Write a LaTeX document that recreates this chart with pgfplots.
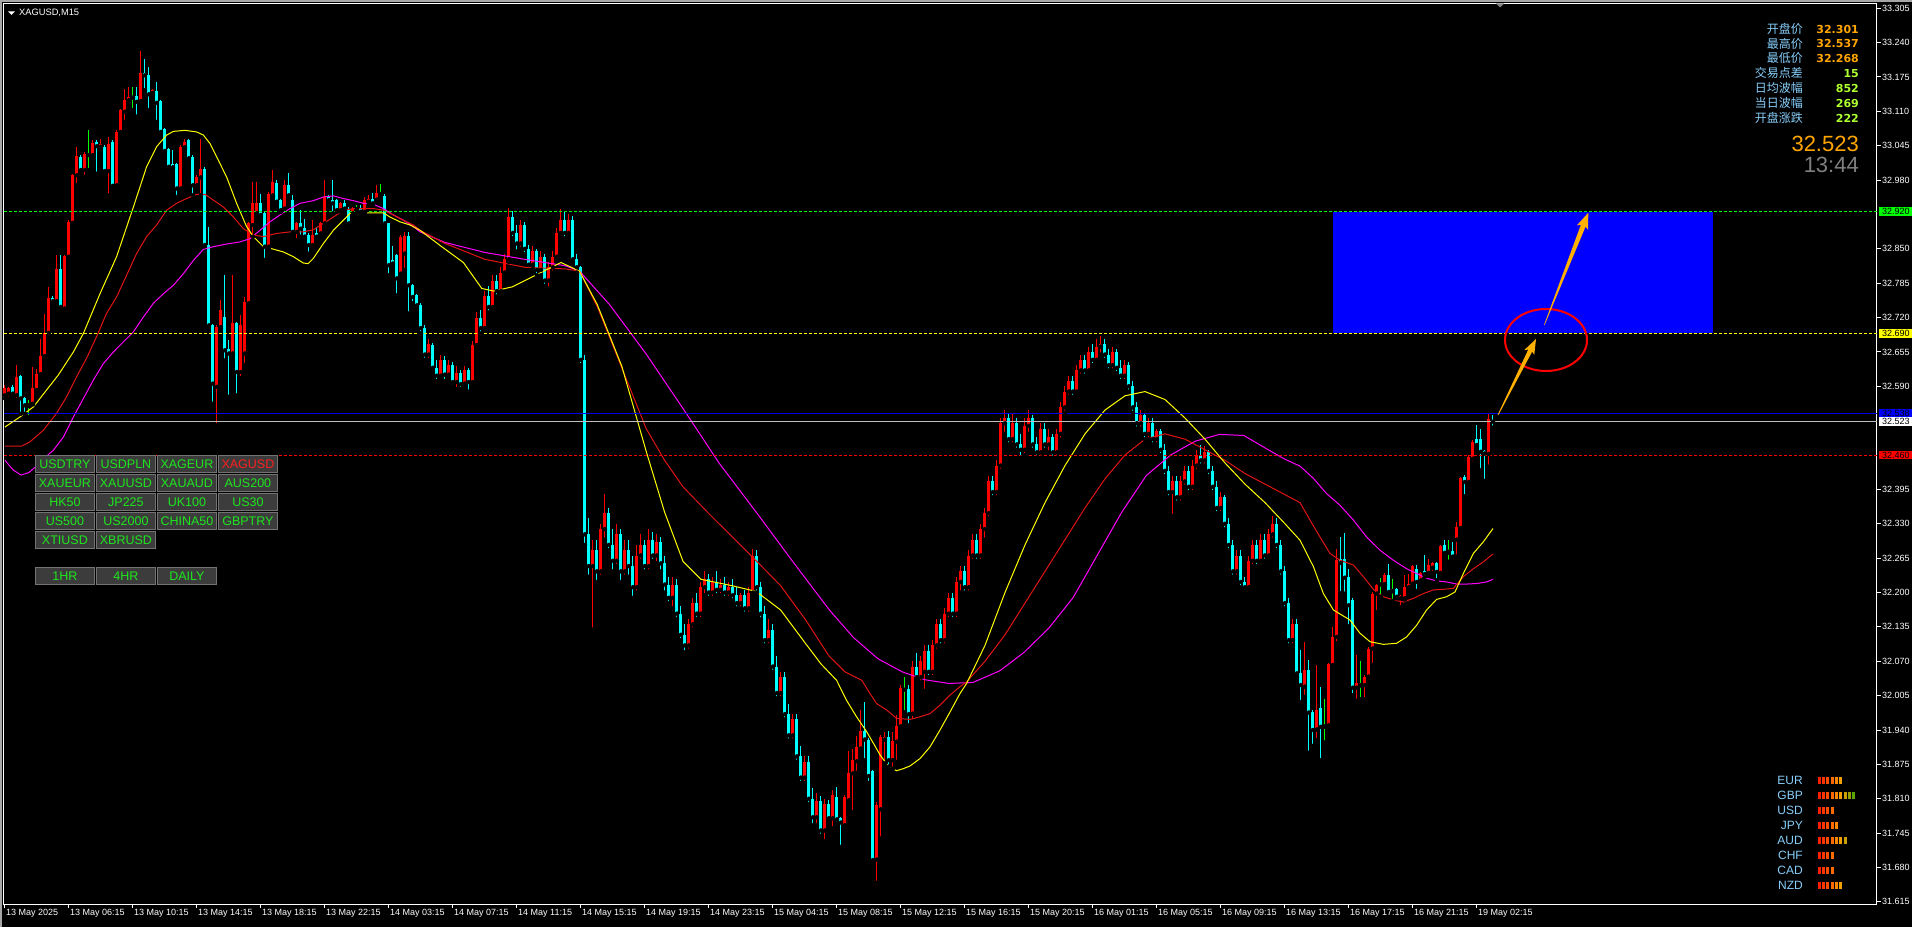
\documentclass[border=0pt]{standalone}
\usepackage{pgfplots}
\pgfplotsset{compat=1.18}
\usepackage{pgfplotstable}
\usepackage{fontspec}
\setmainfont{Liberation Sans}
\newfontfamily\cjk{Noto Sans CJK SC}
\newfontfamily\dvs{DejaVu Sans}
\definecolor{cup}{RGB}{255,0,0}
\definecolor{cdn}{RGB}{0,255,255}
\definecolor{cdoji}{RGB}{0,255,0}
\definecolor{maY}{RGB}{255,255,0}
\definecolor{maR}{RGB}{225,20,20}
\definecolor{maM}{RGB}{255,0,255}
\definecolor{lvlG}{RGB}{0,255,0}
\definecolor{lvlY}{RGB}{255,255,0}
\definecolor{lvlB}{RGB}{0,0,255}
\definecolor{lvlL}{RGB}{0,0,230}
\definecolor{lvlW}{RGB}{190,190,190}
\definecolor{lvlR}{RGB}{255,0,0}
\definecolor{lblue}{RGB}{135,206,250}
\definecolor{vorange}{RGB}{255,165,0}
\definecolor{vgreen}{RGB}{173,255,47}
\definecolor{arrowc}{RGB}{255,176,0}
\definecolor{btnfill}{RGB}{60,60,60}
\definecolor{btnedge}{RGB}{115,115,115}
\definecolor{btng}{RGB}{30,230,30}
\definecolor{btnr}{RGB}{255,30,30}
\definecolor{s1}{RGB}{255,30,0}
\definecolor{s2}{RGB}{255,50,0}
\definecolor{s3}{RGB}{255,75,0}
\definecolor{s4}{RGB}{255,105,0}
\definecolor{s5}{RGB}{255,135,0}
\definecolor{s6}{RGB}{240,160,0}
\definecolor{s7}{RGB}{200,160,0}
\definecolor{s8}{RGB}{150,160,0}
\definecolor{s9}{RGB}{90,165,0}
\newcommand\tf{\fontsize{9}{10}\selectfont}

\pgfplotstableread{
i o h l c
0 32.573 32.592 32.567 32.586
1 32.576 32.589 32.567 32.586
2 32.589 32.592 32.573 32.576
3 32.573 32.630 32.564 32.608
4 32.609 32.611 32.538 32.567
5 32.567 32.570 32.538 32.554
6 32.554 32.564 32.531 32.557
7 32.557 32.627 32.556 32.586
8 32.583 32.623 32.579 32.614
9 32.613 32.680 32.611 32.647
10 32.647 32.727 32.646 32.691
11 32.691 32.778 32.686 32.757
12 32.757 32.760 32.746 32.751
13 32.751 32.838 32.750 32.812
14 32.812 32.838 32.737 32.740
15 32.737 32.838 32.734 32.836
16 32.835 32.904 32.831 32.901
17 32.899 32.992 32.898 32.989
18 32.989 33.043 32.970 33.025
19 33.024 33.027 32.995 32.999
20 32.999 33.033 32.986 33.030
21 33.028 33.074 32.999 33.028
22 33.027 33.055 33.024 33.050
23 33.052 33.055 32.992 33.044
24 33.043 33.058 33.040 33.048
25 33.043 33.046 32.995 32.997
26 32.997 33.062 32.951 33.049
27 33.052 33.055 32.967 32.969
28 32.970 33.074 32.967 33.071
29 33.071 33.115 33.068 33.112
30 33.109 33.153 33.090 33.131
31 33.131 33.156 33.128 33.137
32 33.136 33.156 33.112 33.139
33 33.139 33.156 33.100 33.128
34 33.129 33.224 33.128 33.183
35 33.183 33.208 33.150 33.178
36 33.178 33.194 33.112 33.142
37 33.145 33.153 33.141 33.150
38 33.148 33.166 33.090 33.126
39 33.129 33.131 33.069 33.071
40 33.076 33.078 33.033 33.035
41 33.038 33.040 33.002 33.005
42 33.010 33.036 33.002 33.004
43 33.010 33.013 32.948 32.964
44 32.964 33.046 32.962 33.043
45 33.042 33.058 33.040 33.052
46 33.055 33.057 33.019 33.021
47 33.024 33.027 32.951 32.970
48 32.970 32.989 32.967 32.986
49 32.985 33.057 32.951 33.000
50 33.000 33.005 32.855 32.857
51 32.857 32.891 32.702 32.705
52 32.705 32.708 32.557 32.595
53 32.589 32.705 32.516 32.702
54 32.702 32.753 32.699 32.734
55 32.721 32.800 32.639 32.658
56 32.661 32.677 32.570 32.652
57 32.652 32.800 32.649 32.709
58 32.709 32.712 32.573 32.617
59 32.617 32.724 32.605 32.705
60 32.652 32.759 32.630 32.750
61 32.747 32.901 32.744 32.898
62 32.895 32.977 32.873 32.936
63 32.917 32.977 32.914 32.936
64 32.936 32.953 32.911 32.914
65 32.917 32.920 32.829 32.854
66 32.854 32.958 32.851 32.953
67 32.951 32.999 32.948 32.977
68 32.975 32.980 32.936 32.939
69 32.942 32.945 32.920 32.923
70 32.926 32.980 32.914 32.970
71 32.970 32.994 32.948 32.951
72 32.943 32.951 32.880 32.882
73 32.882 32.901 32.866 32.899
74 32.899 32.923 32.873 32.888
75 32.890 32.907 32.869 32.873
76 32.876 32.879 32.841 32.857
77 32.857 32.904 32.854 32.876
78 32.879 32.891 32.869 32.873
79 32.879 32.901 32.873 32.898
80 32.898 32.980 32.895 32.947
81 32.948 32.951 32.939 32.942
82 32.943 32.980 32.917 32.936
83 32.942 32.945 32.920 32.923
84 32.923 32.939 32.920 32.936
85 32.937 32.942 32.923 32.926
86 32.926 32.929 32.895 32.898
87 32.917 32.929 32.914 32.926
88 32.926 32.932 32.917 32.923
89 32.926 32.932 32.917 32.920
90 32.920 32.948 32.918 32.942
91 32.939 32.951 32.936 32.945
92 32.945 32.955 32.932 32.936
93 32.943 32.970 32.941 32.956
94 32.953 32.973 32.951 32.956
95 32.950 32.953 32.895 32.898
96 32.898 32.899 32.800 32.819
97 32.829 32.855 32.819 32.822
98 32.838 32.841 32.762 32.794
99 32.803 32.876 32.800 32.873
100 32.841 32.882 32.810 32.874
101 32.874 32.882 32.728 32.781
102 32.781 32.784 32.747 32.759
103 32.762 32.765 32.740 32.743
104 32.743 32.748 32.690 32.700
105 32.700 32.705 32.640 32.650
106 32.650 32.680 32.640 32.670
107 32.668 32.672 32.618 32.625
108 32.625 32.640 32.600 32.610
109 32.610 32.650 32.605 32.640
110 32.640 32.648 32.600 32.612
111 32.612 32.640 32.605 32.630
112 32.630 32.635 32.590 32.598
113 32.598 32.628 32.585 32.615
114 32.615 32.620 32.585 32.594
115 32.595 32.628 32.590 32.620
116 32.620 32.625 32.580 32.598
117 32.598 32.675 32.592 32.668
118 32.668 32.730 32.660 32.720
119 32.720 32.735 32.690 32.700
120 32.700 32.770 32.695 32.760
121 32.760 32.780 32.730 32.740
122 32.740 32.800 32.735 32.790
123 32.790 32.800 32.760 32.770
124 32.770 32.815 32.765 32.805
125 32.805 32.840 32.800 32.830
126 32.830 32.928 32.825 32.910
127 32.910 32.922 32.870 32.880
128 32.880 32.895 32.845 32.860
129 32.860 32.905 32.850 32.895
130 32.895 32.900 32.840 32.850
131 32.850 32.858 32.810 32.820
132 32.820 32.855 32.812 32.845
133 32.845 32.850 32.800 32.810
134 32.810 32.845 32.800 32.835
135 32.835 32.840 32.780 32.790
136 32.790 32.825 32.775 32.815
137 32.815 32.845 32.805 32.835
138 32.835 32.890 32.830 32.880
139 32.880 32.925 32.875 32.905
140 32.905 32.922 32.870 32.880
141 32.880 32.915 32.875 32.905
142 32.905 32.912 32.825 32.830
143 32.830 32.840 32.805 32.815
144 32.815 32.818 32.630 32.640
145 32.640 32.650 32.290 32.310
146 32.310 32.340 32.230 32.250
147 32.250 32.300 32.130 32.280
148 32.280 32.300 32.220 32.240
149 32.240 32.330 32.230 32.320
150 32.320 32.386 32.300 32.350
151 32.350 32.360 32.280 32.290
152 32.290 32.320 32.240 32.260
153 32.260 32.330 32.250 32.310
154 32.310 32.320 32.220 32.240
155 32.240 32.300 32.230 32.280
156 32.280 32.300 32.230 32.250
157 32.250 32.270 32.190 32.210
158 32.210 32.290 32.200 32.270
159 32.270 32.310 32.260 32.290
160 32.290 32.300 32.240 32.250
161 32.250 32.320 32.240 32.300
162 32.300 32.315 32.260 32.270
163 32.270 32.310 32.255 32.295
164 32.295 32.305 32.240 32.255
165 32.255 32.270 32.200 32.215
166 32.215 32.230 32.180 32.190
167 32.190 32.230 32.170 32.215
168 32.215 32.225 32.150 32.160
169 32.160 32.175 32.110 32.120
170 32.120 32.140 32.087 32.100
171 32.100 32.150 32.090 32.140
172 32.140 32.190 32.130 32.180
173 32.180 32.200 32.150 32.160
174 32.160 32.220 32.150 32.210
175 32.210 32.240 32.195 32.225
176 32.225 32.235 32.190 32.200
177 32.200 32.230 32.190 32.220
178 32.220 32.240 32.195 32.205
179 32.205 32.225 32.195 32.215
180 32.215 32.230 32.190 32.200
181 32.200 32.220 32.190 32.210
182 32.210 32.225 32.185 32.195
183 32.195 32.210 32.170 32.180
184 32.180 32.200 32.170 32.195
185 32.195 32.205 32.160 32.170
186 32.170 32.210 32.160 32.200
187 32.200 32.283 32.195 32.270
188 32.270 32.280 32.200 32.210
189 32.210 32.220 32.150 32.160
190 32.160 32.175 32.100 32.110
191 32.110 32.150 32.100 32.130
192 32.130 32.140 32.050 32.060
193 32.060 32.080 32.000 32.010
194 32.010 32.050 32.000 32.040
195 32.040 32.050 31.960 31.970
196 31.970 31.990 31.920 31.930
197 31.930 31.970 31.920 31.960
198 31.960 31.970 31.880 31.890
199 31.890 31.910 31.840 31.850
200 31.850 31.890 31.840 31.880
201 31.880 31.890 31.800 31.810
202 31.810 31.830 31.760 31.775
203 31.775 31.820 31.760 31.805
204 31.805 31.815 31.740 31.750
205 31.750 31.810 31.730 31.801
206 31.801 31.808 31.770 31.773
207 31.773 31.826 31.754 31.817
208 31.814 31.833 31.763 31.771
209 31.774 31.776 31.719 31.765
210 31.760 31.817 31.758 31.814
211 31.807 31.901 31.804 31.858
212 31.858 31.905 31.785 31.883
213 31.881 31.928 31.859 31.908
214 31.905 31.978 31.902 31.938
215 31.938 31.993 31.883 31.922
216 31.921 31.924 31.840 31.853
217 31.863 31.865 31.689 31.694
218 31.695 31.804 31.651 31.798
219 31.790 31.930 31.735 31.927
220 31.922 31.937 31.877 31.927
221 31.927 31.938 31.871 31.883
222 31.883 31.937 31.867 31.920
223 31.918 31.968 31.880 31.947
224 31.947 32.025 31.946 32.020
225 32.017 32.041 31.974 32.017
226 32.017 32.025 31.949 31.970
227 31.971 32.070 31.956 32.060
228 32.060 32.085 32.035 32.040
229 32.040 32.080 32.030 32.070
230 32.050 32.100 32.014 32.090
231 32.090 32.100 32.040 32.050
232 32.050 32.110 32.040 32.100
233 32.100 32.150 32.090 32.140
234 32.140 32.150 32.100 32.110
235 32.110 32.170 32.100 32.160
236 32.160 32.200 32.150 32.190
237 32.190 32.200 32.150 32.160
238 32.160 32.230 32.150 32.220
239 32.220 32.250 32.200 32.240
240 32.240 32.250 32.200 32.210
241 32.210 32.280 32.200 32.270
242 32.270 32.310 32.260 32.300
243 32.300 32.310 32.260 32.270
244 32.270 32.330 32.260 32.320
245 32.320 32.360 32.300 32.350
246 32.350 32.420 32.340 32.410
247 32.410 32.420 32.380 32.390
248 32.390 32.450 32.380 32.440
249 32.440 32.530 32.430 32.520
250 32.520 32.545 32.500 32.530
251 32.530 32.540 32.480 32.490
252 32.490 32.540 32.480 32.520
253 32.520 32.530 32.470 32.480
254 32.480 32.500 32.455 32.470
255 32.470 32.530 32.460 32.515
256 32.515 32.545 32.500 32.530
257 32.530 32.535 32.470 32.480
258 32.480 32.495 32.455 32.465
259 32.465 32.520 32.455 32.510
260 32.510 32.520 32.470 32.480
261 32.480 32.510 32.465 32.495
262 32.495 32.500 32.455 32.465
263 32.465 32.510 32.455 32.500
264 32.500 32.560 32.490 32.550
265 32.550 32.590 32.540 32.580
266 32.580 32.610 32.570 32.600
267 32.600 32.610 32.570 32.580
268 32.580 32.630 32.575 32.620
269 32.620 32.650 32.610 32.640
270 32.640 32.650 32.610 32.620
271 32.620 32.665 32.615 32.655
272 32.655 32.670 32.630 32.640
273 32.640 32.680 32.635 32.665
274 32.665 32.686 32.650 32.670
275 32.670 32.680 32.640 32.650
276 32.650 32.660 32.620 32.630
277 32.630 32.665 32.620 32.655
278 32.655 32.660 32.615 32.625
279 32.625 32.640 32.600 32.610
280 32.610 32.640 32.600 32.630
281 32.630 32.635 32.580 32.590
282 32.590 32.600 32.540 32.550
283 32.550 32.560 32.510 32.520
284 32.520 32.545 32.510 32.535
285 32.535 32.540 32.490 32.500
286 32.500 32.530 32.490 32.520
287 32.520 32.530 32.480 32.490
288 32.490 32.510 32.480 32.505
289 32.505 32.510 32.460 32.470
290 32.470 32.480 32.420 32.430
291 32.430 32.440 32.380 32.390
292 32.390 32.420 32.345 32.410
293 32.410 32.420 32.370 32.380
294 32.380 32.420 32.370 32.410
295 32.410 32.440 32.400 32.430
296 32.430 32.440 32.390 32.400
297 32.400 32.450 32.390 32.440
298 32.440 32.470 32.430 32.460
299 32.460 32.479 32.440 32.450
300 32.450 32.478 32.440 32.465
301 32.465 32.470 32.420 32.430
302 32.430 32.440 32.390 32.400
303 32.400 32.410 32.350 32.360
304 32.360 32.390 32.350 32.380
305 32.380 32.385 32.320 32.330
306 32.330 32.340 32.280 32.290
307 32.290 32.300 32.230 32.240
308 32.240 32.280 32.230 32.270
309 32.270 32.280 32.210 32.220
310 32.220 32.230 32.202 32.210
311 32.210 32.270 32.205 32.260
312 32.260 32.300 32.250 32.290
313 32.290 32.300 32.250 32.260
314 32.260 32.310 32.255 32.300
315 32.300 32.310 32.260 32.270
316 32.270 32.320 32.265 32.310
317 32.310 32.345 32.300 32.330
318 32.330 32.340 32.280 32.290
319 32.290 32.300 32.230 32.240
320 32.240 32.250 32.170 32.180
321 32.180 32.190 32.100 32.110
322 32.110 32.150 32.100 32.140
323 32.140 32.150 32.040 32.047
324 32.047 32.092 31.993 32.025
325 32.022 32.107 32.003 32.053
326 32.053 32.073 31.897 31.973
327 31.974 31.978 31.910 31.940
328 31.941 32.063 31.921 31.978
329 31.981 32.022 31.883 31.946
330 31.947 31.999 31.916 31.949
331 31.949 32.067 31.947 32.065
332 32.063 32.134 32.060 32.115
333 32.116 32.283 32.104 32.262
334 32.264 32.305 32.199 32.256
335 32.264 32.312 32.198 32.228
336 32.230 32.244 32.136 32.176
337 32.186 32.189 32.006 32.020
338 32.020 32.082 31.995 32.028
339 32.025 32.071 31.998 32.028
340 32.025 32.044 31.998 32.041
341 32.041 32.097 32.037 32.094
342 32.094 32.201 32.063 32.198
343 32.198 32.217 32.163 32.214
344 32.216 32.227 32.192 32.216
345 32.216 32.236 32.214 32.233
346 32.233 32.254 32.198 32.201
347 32.203 32.225 32.184 32.206
348 32.206 32.208 32.189 32.192
349 32.189 32.195 32.172 32.193
350 32.189 32.233 32.187 32.210
351 32.210 32.235 32.208 32.217
352 32.217 32.252 32.216 32.250
353 32.245 32.252 32.203 32.220
354 32.223 32.239 32.220 32.237
355 32.241 32.271 32.230 32.235
356 32.237 32.264 32.236 32.252
357 32.247 32.258 32.237 32.256
358 32.256 32.258 32.223 32.239
359 32.237 32.290 32.236 32.288
360 32.290 32.300 32.274 32.275
361 32.278 32.299 32.258 32.275
362 32.278 32.296 32.262 32.268
363 32.300 32.334 32.268 32.324
364 32.322 32.419 32.321 32.416
365 32.419 32.422 32.382 32.409
366 32.409 32.460 32.406 32.457
367 32.453 32.488 32.444 32.485
368 32.491 32.517 32.477 32.479
369 32.491 32.510 32.431 32.466
370 32.468 32.469 32.411 32.463
371 32.462 32.539 32.438 32.529
372 32.527 32.535 32.512 32.523
}\candles

\begin{document}
\begin{tikzpicture}
\fill[black] (0pt,0pt) rectangle (1912pt,927pt);
\path[use as bounding box] (0pt,0pt) rectangle (1912pt,927pt);
\begin{axis}[
  at={(4pt,23pt)}, anchor=south west,
  scale only axis, width=1873pt, height=900pt,
  xmin=-0.25, xmax=468, ymin=31.611, ymax=33.3129,
  clip=false,
  axis line style={white, line width=1pt},
  tick align=outside, xtick pos=bottom, ytick pos=right, yticklabel pos=right,
  major tick length=4pt, tick style={white, line width=1pt},
  minor tick num=0,
  xtick={0,16,...,368},
  xticklabels={13 May 2025,13 May 06:15,13 May 10:15,13 May 14:15,13 May 18:15,13 May 22:15,14 May 03:15,14 May 07:15,14 May 11:15,14 May 15:15,14 May 19:15,14 May 23:15,15 May 04:15,15 May 08:15,15 May 12:15,15 May 16:15,15 May 20:15,16 May 01:15,16 May 05:15,16 May 09:15,16 May 13:15,16 May 17:15,16 May 21:15,19 May 02:15},
  xticklabel style={text=white, font=\tf, anchor=north west, inner sep=0pt, xshift=1pt, yshift=-1pt},
  ytick={31.615,31.680,31.745,31.810,31.875,31.940,32.005,32.070,32.135,32.200,32.265,32.330,32.395,32.590,32.655,32.720,32.785,32.850,32.980,33.045,33.110,33.175,33.240,33.305},
  yticklabels={31.615,31.680,31.745,31.810,31.875,31.940,32.005,32.070,32.135,32.200,32.265,32.330,32.395,32.590,32.655,32.720,32.785,32.850,32.980,33.045,33.110,33.175,33.240,33.305},
  yticklabel style={text=white, font=\tf, anchor=west, inner sep=0pt, xshift=1pt},
]
% blue zone
\fill[lvlB] (axis cs:332,32.690) rectangle (axis cs:427,32.920);
% wicks
\addplot[only marks, mark=none, forget plot, error bars/.cd, y dir=plus, y explicit, error mark=none, error bar style={cup, line width=1pt}]
  table[x=i, y expr={\thisrow{c}>\thisrow{o} ? \thisrow{l} : nan}, y error plus expr={\thisrow{h}-\thisrow{l}}] {\candles};
\addplot[only marks, mark=none, forget plot, error bars/.cd, y dir=plus, y explicit, error mark=none, error bar style={cdn, line width=1pt}]
  table[x=i, y expr={\thisrow{c}<\thisrow{o} ? \thisrow{l} : nan}, y error plus expr={\thisrow{h}-\thisrow{l}}] {\candles};
\addplot[only marks, mark=none, forget plot, error bars/.cd, y dir=plus, y explicit, error mark=none, error bar style={cdoji, line width=1pt}]
  table[x=i, y expr={\thisrow{c}==\thisrow{o} ? \thisrow{l} : nan}, y error plus expr={\thisrow{h}-\thisrow{l}}] {\candles};
% bodies
\addplot[only marks, mark=none, forget plot, error bars/.cd, y dir=plus, y explicit, error mark=none, error bar style={cup, line width=3pt}]
  table[x=i, y expr={\thisrow{c}>\thisrow{o} ? \thisrow{o} : nan}, y error plus expr={max(\thisrow{c}-\thisrow{o},0.0017)}] {\candles};
\addplot[only marks, mark=none, forget plot, error bars/.cd, y dir=plus, y explicit, error mark=none, error bar style={cdn, line width=3pt}]
  table[x=i, y expr={\thisrow{c}<\thisrow{o} ? \thisrow{c} : nan}, y error plus expr={max(\thisrow{o}-\thisrow{c},0.0017)}] {\candles};
\addplot[only marks, mark=none, forget plot, error bars/.cd, y dir=plus, y explicit, error mark=none, error bar style={cdoji, line width=3pt}]
  table[x=i, y expr={\thisrow{c}==\thisrow{o} ? \thisrow{o}-0.0008 : nan}, y error plus expr={0.0017}] {\candles};
% moving averages
\addplot[maM, line width=1pt, mark=none] coordinates {(0,32.450) (2,32.432) (4,32.422) (6,32.427) (8,32.440) (9.6,32.453) (12.1,32.469) (14.6,32.494) (17.1,32.532) (19.6,32.567) (22.1,32.602) (24.6,32.633) (27.1,32.655) (29.6,32.674) (32.1,32.693) (34.6,32.721) (37.1,32.747) (39.6,32.765) (42.1,32.781) (44.6,32.803) (47.1,32.828) (49.6,32.849) (52.1,32.854) (55.4,32.859) (58.75,32.863) (61.25,32.869) (63.75,32.885) (66.25,32.901) (68.75,32.914) (71.25,32.926) (73.75,32.936) (77.1,32.941) (79.6,32.948) (82.1,32.950) (84.6,32.945) (87.1,32.941) (89.6,32.936) (92.1,32.934) (94.6,32.926) (97.1,32.914) (99.6,32.904) (102.1,32.892) (103.75,32.882) (110,32.862) (120,32.843) (130,32.830) (140,32.818) (143.6,32.808) (151.2,32.744) (160.3,32.651) (169.5,32.548) (178.6,32.444) (187.8,32.352) (196.9,32.259) (206.1,32.167) (212.1,32.115) (218.2,32.075) (224.3,32.050) (230,32.035) (236,32.028) (242,32.030) (248.7,32.052) (254.8,32.087) (261,32.133) (267,32.190) (273.1,32.271) (279.2,32.352) (285.3,32.421) (291.4,32.460) (297.5,32.486) (303.6,32.499) (309.7,32.497) (315.8,32.470) (320,32.452) (323.75,32.439) (327.1,32.416) (330.4,32.387) (333.75,32.365) (337.1,32.337) (340.4,32.305) (343.75,32.280) (347.1,32.261) (350.4,32.245) (352.9,32.236) (355.4,32.227) (357.9,32.222) (360.4,32.220) (362.9,32.216) (365.4,32.216) (367.9,32.217) (370.4,32.220) (372,32.225)};
\addplot[maR, line width=1pt, mark=none] coordinates {(0,32.477) (4.2,32.477) (6.25,32.485) (9.6,32.507) (12.9,32.539) (15.4,32.570) (17.9,32.608) (20.4,32.643) (22.9,32.684) (25.4,32.728) (27.9,32.759) (30.4,32.800) (32.9,32.841) (35.4,32.873) (37.9,32.895) (40.4,32.923) (42.9,32.936) (45.4,32.945) (47.9,32.953) (50,32.953) (52.1,32.942) (54.6,32.929) (57.1,32.910) (59.6,32.888) (62.1,32.876) (64.6,32.873) (67.9,32.879) (71.25,32.882) (74.6,32.882) (77.1,32.886) (79.6,32.898) (82.1,32.910) (84.6,32.923) (87.1,32.926) (92.1,32.926) (94.6,32.923) (97.1,32.914) (99.6,32.904) (102.1,32.895) (103.75,32.885) (110,32.860) (120,32.830) (130,32.815) (140,32.812) (143.6,32.808) (148.1,32.740) (154.2,32.625) (160.3,32.510) (164.9,32.450) (169.5,32.400) (175.6,32.352) (181.7,32.306) (187.8,32.260) (193.9,32.213) (200,32.150) (206,32.080) (210,32.050) (214.2,32.034) (216.25,32.009) (217.9,31.990) (220.4,31.978) (222.9,31.962) (226.25,31.960) (228.75,31.965) (231.25,31.971) (233.75,31.987) (236.25,32.006) (238.75,32.022) (240.4,32.031) (245,32.070) (250,32.120) (255,32.180) (260,32.240) (265,32.300) (270,32.360) (275,32.415) (280,32.460) (285,32.490) (290,32.500) (295,32.490) (300,32.470) (305,32.450) (310,32.425) (315,32.405) (320,32.385) (323.75,32.370) (326.25,32.337) (328.75,32.305) (331.25,32.274) (333.75,32.261) (337.1,32.252) (339.6,32.230) (342.1,32.206) (344.6,32.192) (347.1,32.186) (349.6,32.182) (352.1,32.189) (354.6,32.198) (357.1,32.205) (359.6,32.206) (362.1,32.208) (364.6,32.230) (367.1,32.245) (369.6,32.258) (372,32.273)};
\addplot[maY, line width=1pt, mark=none] coordinates {(0,32.513) (3.75,32.532) (7.1,32.551) (10.4,32.583) (13.3,32.611) (17.1,32.655) (19.6,32.690) (23.75,32.765) (27.9,32.835) (32.1,32.929) (35.4,33.005) (37.9,33.043) (40.4,33.065) (42.1,33.072) (45,33.074) (47.9,33.071) (49.6,33.065) (51.25,33.049) (52.9,33.024) (55.4,32.986) (57.9,32.936) (60.4,32.892) (62.1,32.873) (64.6,32.854) (66.25,32.851) (69.6,32.844) (72.1,32.835) (74.6,32.823) (75.8,32.822) (77.1,32.832) (79.6,32.860) (82.1,32.885) (84.6,32.904) (86.25,32.917) (88.75,32.918) (94.6,32.918) (96.25,32.910) (98.75,32.901) (101.25,32.895) (103.75,32.885) (109,32.855) (114.6,32.824) (119.2,32.775) (122.2,32.770) (126.8,32.778) (132.9,32.801) (139,32.824) (143.6,32.808) (148.1,32.744) (154.2,32.628) (160.3,32.467) (164.9,32.352) (169.5,32.259) (174,32.225) (181.7,32.213) (187.8,32.202) (193.9,32.167) (200,32.105) (204,32.065) (207.9,32.034) (210.4,31.996) (212.9,31.965) (215.4,31.937) (217.1,31.915) (218.75,31.893) (220.8,31.872) (222.9,31.863) (224.6,31.867) (226.25,31.872) (228.75,31.886) (231.25,31.908) (233.75,31.940) (236.25,31.974) (238.75,32.009) (240.4,32.028) (245,32.10) (250,32.20) (255,32.29) (260,32.37) (265,32.44) (270,32.50) (275,32.545) (280,32.572) (285,32.580) (290,32.565) (295,32.530) (300,32.490) (305,32.445) (310,32.405) (315,32.370) (320,32.330) (323.75,32.299) (327.1,32.249) (329.6,32.198) (332.1,32.167) (336.25,32.148) (338.75,32.123) (341.25,32.107) (344.6,32.102) (347.9,32.104) (350.4,32.116) (352.9,32.138) (355.4,32.167) (357.9,32.187) (360.4,32.192) (362.5,32.201) (364.6,32.236) (367.1,32.274) (369.6,32.296) (372,32.321)};
% price levels
\addplot[lvlG, line width=1pt, dash pattern=on 3pt off 2pt, forget plot] coordinates {(-0.25,32.920) (468,32.920)};
\addplot[lvlY, line width=1pt, dash pattern=on 3pt off 2pt, forget plot] coordinates {(-0.25,32.690) (468,32.690)};
\addplot[lvlL, line width=1pt, forget plot] coordinates {(-0.25,32.538) (468,32.538)};
\addplot[lvlW, line width=1pt, forget plot] coordinates {(-0.25,32.523) (468,32.523)};
\addplot[lvlR, line width=1pt, dash pattern=on 3pt off 2pt, forget plot] coordinates {(-0.25,32.460) (468,32.460)};
% level labels
\node[fill=lvlG, text=black, anchor=west, inner xsep=3pt, inner ysep=1.2pt, font=\tf, xshift=2pt] at (axis cs:468,32.920) {32.920};
\node[fill=lvlY, text=black, anchor=west, inner xsep=3pt, inner ysep=1.2pt, font=\tf, xshift=2pt] at (axis cs:468,32.690) {32.690};
\node[fill=lvlB, text=black, anchor=west, inner xsep=3pt, inner ysep=1.2pt, font=\tf, xshift=2pt] at (axis cs:468,32.538) {32.538};
\node[fill=white, text=black, anchor=west, inner xsep=3pt, inner ysep=1.2pt, font=\tf, xshift=2pt] at (axis cs:468,32.523) {32.523};
\node[fill=lvlR, text=black, anchor=west, inner xsep=3pt, inner ysep=1.2pt, font=\tf, xshift=2pt] at (axis cs:468,32.460) {32.460};
\end{axis}
\begin{scope}[x=1pt,y=1pt]
% window border
\draw[gray!70, line width=1.5] (0,926.2) -- (1912,926.2);
\draw[gray!70, line width=1.5] (0.8,0) -- (0.8,927);
\fill[gray] (1496,923.5) -- (1504,923.5) -- (1500,919.5) -- cycle;
% title
\fill[white] (8,915.5) -- (15,915.5) -- (11.5,912) -- cycle;
\node[anchor=west, text=white, font=\fontsize{9.3}{10}\selectfont, inner sep=0pt] at (19,914) {XAGUSD,M15};
% info panel
\foreach \lab/\val/\col/\yy in {开盘价/32.301/vorange/29.3, 最高价/32.537/vorange/43.6, 最低价/32.268/vorange/58.3, 交易点差/15/vgreen/73.3, 日均波幅/852/vgreen/88.3, 当日波幅/269/vgreen/103.3, 开盘涨跌/222/vgreen/118.3}{
  \node[anchor=east, text=lblue, font=\cjk\fontsize{12}{12}\selectfont, inner sep=0pt] at (1803,927-\yy) {\lab};
  \node[anchor=east, text=\col, font=\dvs\bfseries\fontsize{11}{11}\selectfont, inner sep=0pt] at (1859,927-\yy) {\val};
}
\node[anchor=east, text=vorange, font=\fontsize{22}{22}\selectfont, inner sep=0pt] at (1859,927-143.5) {32.523};
\node[anchor=east, text=gray, font=\fontsize{22}{22}\selectfont, inner sep=0pt] at (1859,927-164.5) {13:44};
% buttons
\foreach \lab/\c/\r/\col in {USDTRY/0/0/btng, USDPLN/1/0/btng, XAGEUR/2/0/btng, XAGUSD/3/0/btnr, XAUEUR/0/1/btng, XAUUSD/1/1/btng, XAUAUD/2/1/btng, AUS200/3/1/btng, HK50/0/2/btng, JP225/1/2/btng, UK100/2/2/btng, US30/3/2/btng, US500/0/3/btng, US2000/1/3/btng, CHINA50/2/3/btng, GBPTRY/3/3/btng, XTIUSD/0/4/btng, XBRUSD/1/4/btng, 1HR/0/5.895/btng, 4HR/1/5.895/btng, DAILY/2/5.895/btng}{
  \pgfmathsetmacro\xa{35.7+61*\c}
  \pgfmathsetmacro\ya{927-455.3-19*\r}
  \draw[fill=btnfill, draw=btnedge, line width=1] (\xa,\ya) rectangle (\xa+58.4,\ya-17);
  \node[anchor=base, text=\col, font=\fontsize{12.5}{12.5}\selectfont, inner sep=0pt] at (\xa+29.2,\ya-13) {\lab};
}
% currency strength
\foreach \name/\n/\yy in {EUR/6/780, GBP/9/795, USD/4/810, JPY/5/825, AUD/7/840, CHF/4/855, CAD/4/870, NZD/6/885}{
  \node[anchor=east, text=lblue, font=\fontsize{12}{12}\selectfont, inner sep=0pt] at (1803,927-\yy) {\name};
  \foreach \k in {1,...,\n}{
    \fill[color=s\k] ({1817.7+(\k-1)*4.3},{927-\yy-3.5}) rectangle ++(3,7);
  }
}
% ellipse and arrows
\draw[red, line width=2] (1546,587) ellipse [x radius=41, y radius=31];
\fill[arrowc] (1498.36,511.82) -- (1532.16,575.40) -- (1534.22,572.13) -- (1536,588) -- (1524.38,577.05) -- (1528.22,577.36) -- (1497.64,512.18) -- cycle;
\fill[arrowc] (1544.58,601.89) -- (1585.52,700.36) -- (1588.05,697.22) -- (1588.3,714.3) -- (1576.87,701.60) -- (1580.86,702.18) -- (1544.02,602.11) -- cycle;
\end{scope}
\end{tikzpicture}
\end{document}
